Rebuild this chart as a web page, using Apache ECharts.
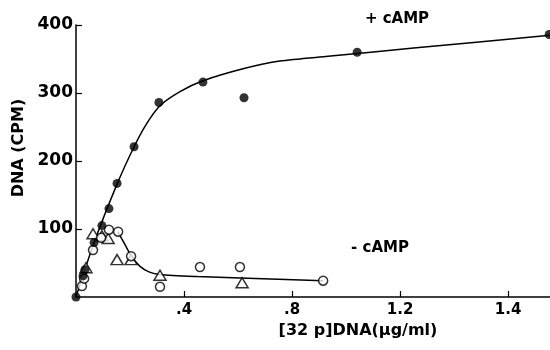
<!DOCTYPE html>
<html>
<head>
<meta charset="utf-8">
<script src="https://cdn.jsdelivr.net/npm/echarts@6/dist/echarts.min.js"></script>
<style>
  html, body { margin: 0; padding: 0; background: #fff; }
  #main { width: 550px; height: 350px; }
</style>
</head>
<body>
<div id="main"></div>
<script>
// [32P]DNA (ug/ml) vs DNA (CPM)
// +cAMP, filled circles
var plusX = [0, 0.026, 0.033, 0.067, 0.096, 0.122, 0.152, 0.215, 0.307, 0.470, 0.622, 1.041, 1.752];
var plusY = [0, 31, 40, 80, 105, 130, 167, 221, 286, 316, 293, 360, 386];
// -cAMP, open circles
var openX = [0.022, 0.030, 0.063, 0.093, 0.122, 0.156, 0.204, 0.311, 0.459, 0.607, 0.915];
var openY = [16, 27, 69, 87, 99, 96, 60, 15, 44, 44, 24];
// -cAMP, open triangles
var triX = [0.037, 0.063, 0.096, 0.119, 0.152, 0.204, 0.311, 0.615];
var triY = [43, 93, 90, 86, 55, 55, 32, 21];
// hand drawn curves
var plusCurveX = [0, 0.067, 0.152, 0.215, 0.26, 0.31, 0.385, 0.47, 0.622, 0.755, 0.933, 1.25, 1.755];
var plusCurveY = [0, 80, 166, 221, 254, 281, 302, 318, 336, 347, 354, 366, 385];
var minusCurveX = [0.155, 0.18, 0.205, 0.237, 0.27, 0.311, 0.45, 0.607, 0.915];
var minusCurveY = [96, 78, 60, 45, 37, 33, 30, 28, 24];
// tick labels (as printed)
var xTickValues = [0.4, 0.8, 1.2, 1.6];
var xTickLabels = ['.4', '.8', '1.2', '1.4'];
var yTickValues = [100, 200, 300, 400];

function pairs(xs, ys) {
    return xs.map(function (x, i) { return [x, ys[i]]; });
}

var ink = '#000';
var fontFam = '"DejaVu Sans", sans-serif';

var chart = echarts.init(document.getElementById('main'));
chart.setOption({
    animation: false,
    grid: { left: 76, right: 0, top: 25, bottom: 53, containLabel: false, outerBoundsMode: 'none' },
    xAxis: {
        type: 'value',
        min: 0, max: 1.755, interval: 0.4,
        splitLine: { show: false },
        axisLine: { lineStyle: { color: ink, width: 1.5 } },
        axisTick: { inside: true, length: 6, customValues: xTickValues, lineStyle: { color: ink, width: 1.2 } },
        axisLabel: {
            customValues: xTickValues,
            color: ink, fontFamily: fontFam, fontWeight: 'bold', fontSize: 15, margin: 6,
            formatter: function (v) {
                for (var i = 0; i < xTickValues.length; i++) {
                    if (Math.abs(v - xTickValues[i]) < 1e-6) return xTickLabels[i];
                }
                return '';
            }
        }
    },
    yAxis: {
        type: 'value',
        min: 0, max: 400, interval: 100,
        splitLine: { show: false },
        axisLine: { lineStyle: { color: ink, width: 1.5 } },
        axisTick: { inside: true, length: 6, customValues: yTickValues, lineStyle: { color: ink, width: 1.2 } },
        axisLabel: {
            customValues: yTickValues,
            color: ink, fontFamily: fontFam, fontWeight: 'bold', fontSize: 17, margin: 3
        }
    },
    graphic: [
        { type: 'text', x: 19, y: 148, rotation: Math.PI / 2,
          style: { text: 'DNA (CPM)', fill: ink, font: 'bold 16px ' + fontFam, align: 'center', verticalAlign: 'middle' } },
        { type: 'text', x: 358, y: 331,
          style: { text: '[32 p]DNA(\u03bcg/ml)', fill: ink, font: 'bold 16px ' + fontFam, align: 'center', verticalAlign: 'middle' } },
        { type: 'text', x: 397, y: 19,
          style: { text: '+ cAMP', fill: ink, font: 'bold 15px ' + fontFam, align: 'center', verticalAlign: 'middle' } },
        { type: 'text', x: 380, y: 248,
          style: { text: '- cAMP', fill: ink, font: 'bold 15px ' + fontFam, align: 'center', verticalAlign: 'middle' } }
    ],
    series: [
        {
            type: 'line', data: pairs(plusCurveX, plusCurveY), smooth: 0.25,
            symbol: 'none', lineStyle: { color: ink, width: 1.5 }, z: 2
        },
        {
            type: 'line', data: pairs(minusCurveX, minusCurveY), smooth: 0.25,
            symbol: 'none', lineStyle: { color: ink, width: 1.5 }, z: 2
        },
        {
            type: 'scatter', data: pairs(triX, triY), symbol: 'triangle', symbolSize: [12, 10],
            itemStyle: { color: '#fff', borderColor: ink, borderWidth: 1.5 }, z: 3
        },
        {
            type: 'scatter', data: pairs(openX, openY), symbol: 'circle', symbolSize: 9,
            itemStyle: { color: '#fff', borderColor: ink, borderWidth: 1.5 }, z: 4
        },
        {
            type: 'scatter', data: pairs(plusX, plusY), symbol: 'circle', symbolSize: 9,
            itemStyle: { color: ink }, z: 5
        }
    ]
});
</script>
</body>
</html>
